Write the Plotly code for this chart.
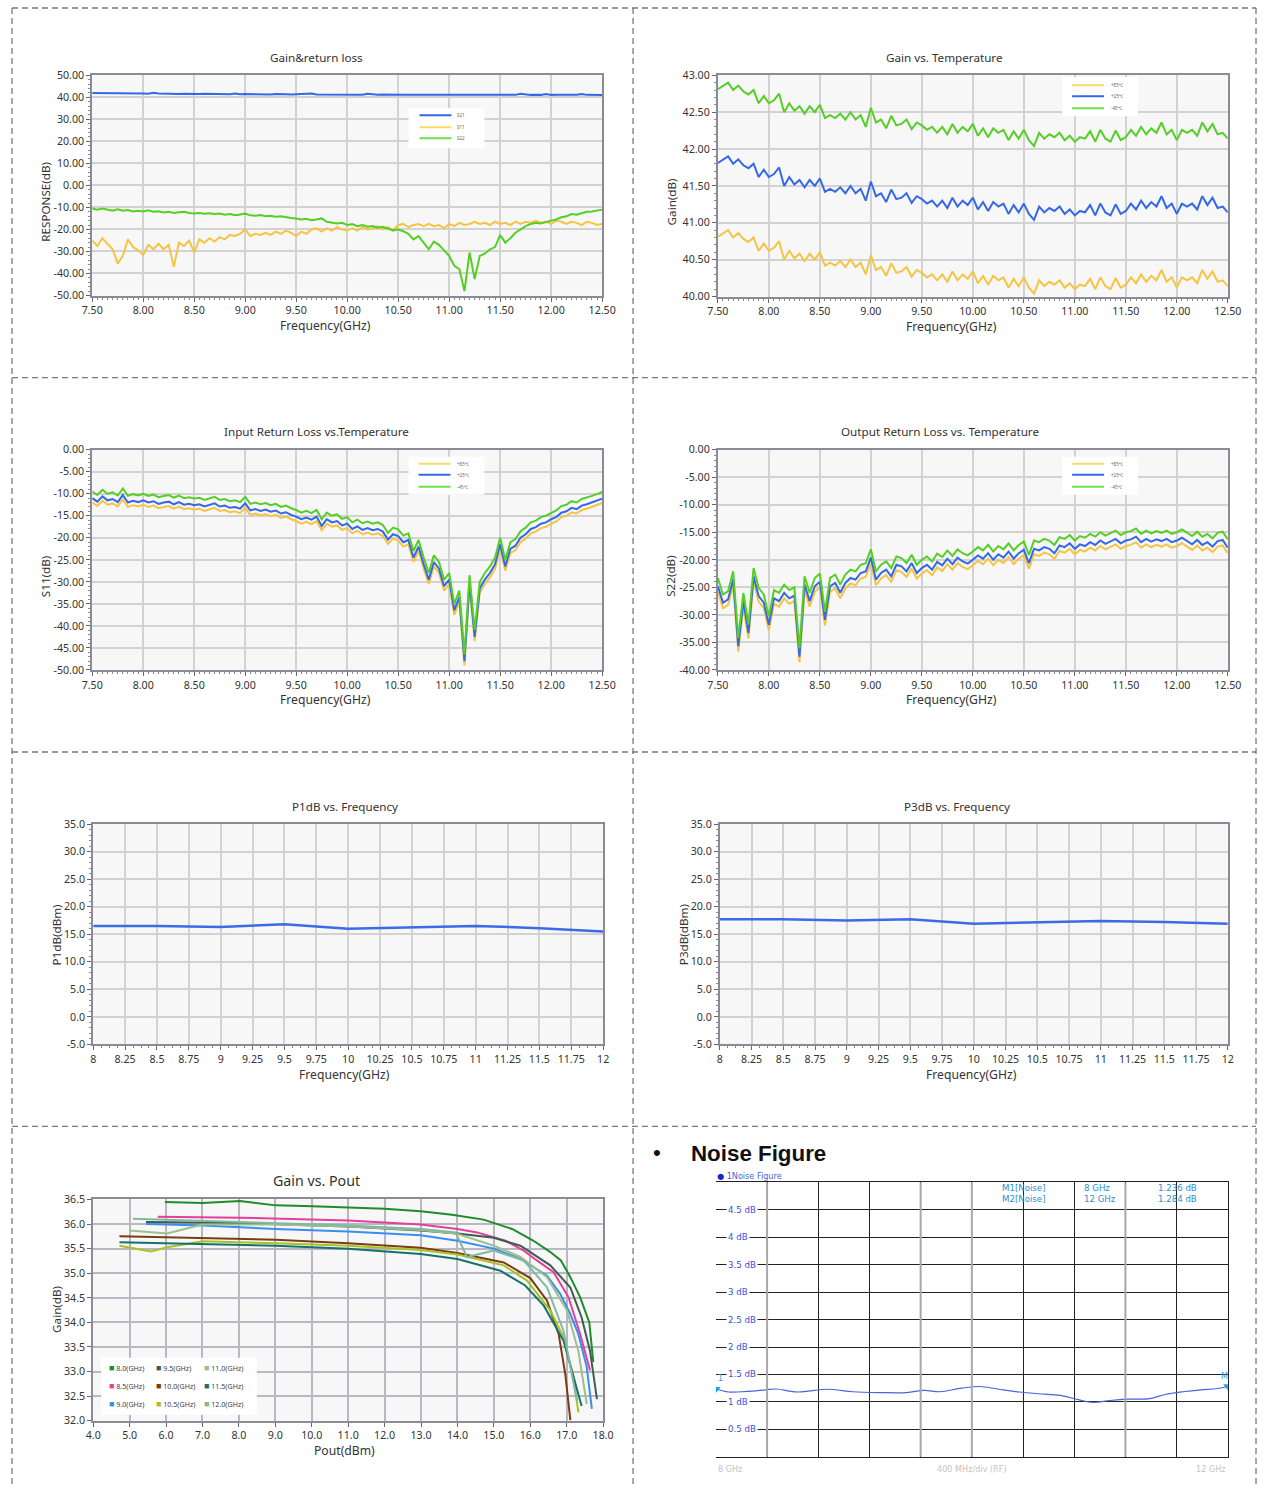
import plotly.graph_objects as go

W, H = 1271, 1495
# The photographed page shows the figure slightly shrunk and offset; these
# factors map the reference's pixel positions back into figure coordinates.
SX, BX = 0.98243, 9.6
SY, BY = 0.98958, 7.8
FS = 1.015  # font compensation for the same shrink


def fx(p):
    return min(max((p - BX) / SX / W, 0.0), 1.0)


def fy(p):
    return min(max(1 - (p - BY) / SY / H, 0.0), 1.0)


FONT = "Noto Sans"

# ---------------------------------------------------------------- data
# VNA sweep grid 7.5 .. 12.5 GHz (step 0.05 GHz)
freq = [round(7.5 + 0.05 * i, 2) for i in range(101)]

# Panel 1: Gain & return loss
sparam_names = ["S21", "S11", "S22"]
s21 = [41.9, 41.9, 41.8, 41.8, 41.7, 41.8, 41.7, 42.0, 41.8, 41.7,
       41.7, 41.6, 42.1, 41.7, 41.6, 41.6, 41.6, 41.5, 41.6, 41.5,
       41.5, 41.5, 41.6, 41.5, 41.5, 41.4, 41.5, 41.4, 41.7, 41.4,
       41.5, 41.4, 41.5, 41.4, 41.4, 41.3, 41.5, 41.3, 41.4, 41.3,
       41.4, 41.3, 41.4, 41.7, 41.3, 41.3, 41.4, 41.3, 41.3, 41.4,
       41.3, 41.2, 41.3, 41.2, 41.6, 41.3, 41.2, 41.3, 41.2, 41.2,
       41.3, 41.2, 41.2, 41.3, 41.2, 41.2, 41.2, 41.3, 41.2, 41.2,
       41.2, 41.2, 41.2, 41.3, 41.2, 41.2, 41.2, 41.1, 41.2, 41.2,
       41.2, 41.1, 41.2, 41.1, 41.6, 41.2, 41.1, 41.2, 41.1, 41.5,
       41.1, 41.2, 41.1, 41.1, 41.1, 41.2, 41.5, 41.1, 41.1, 41.0,
       41.0]
s11 = [-25.0, -27.5, -24.0, -26.5, -29.0, -35.5, -32.0, -24.5, -28.0, -29.5,
       -31.5, -27.0, -29.0, -26.5, -29.0, -27.0, -37.0, -26.0, -27.5, -25.0,
       -30.5, -24.5, -26.0, -24.0, -25.5, -23.5, -24.5, -22.5, -23.0, -22.0,
       -20.0, -23.0, -22.0, -22.5, -21.5, -22.5, -21.0, -22.0, -20.5, -21.5,
       -23.0, -21.0, -22.0, -20.0, -19.5, -21.0, -19.5, -20.5, -19.0, -20.0,
       -20.5, -19.5, -20.5, -19.0, -20.0, -19.5, -18.5, -20.0, -19.0, -20.5,
       -18.0, -17.5, -19.0, -18.0, -17.5, -18.5, -17.5, -18.5, -18.0, -19.5,
       -17.5, -18.5, -17.0, -18.0, -17.5, -16.5, -17.5, -17.0, -18.0, -16.5,
       -17.5, -17.0, -18.0, -16.5, -17.5, -16.5, -17.0, -16.0, -17.0, -16.5,
       -17.5, -16.0, -16.5, -17.5, -16.5, -17.0, -18.0, -16.5, -17.0, -18.0,
       -17.5]
s22 = [-10.5, -11.0, -10.5, -11.0, -11.5, -10.8, -11.5, -11.2, -11.8, -11.5,
       -11.8, -11.3, -12.0, -11.8, -12.3, -12.0, -12.5, -12.2, -12.0, -12.5,
       -12.8, -12.5, -12.9, -12.6, -13.0, -12.8, -13.3, -13.0, -13.5, -13.2,
       -12.8, -13.6, -13.8, -13.5, -14.0, -13.8, -14.2, -14.0, -14.5, -14.8,
       -15.0, -15.5, -15.2, -15.8, -15.5, -15.0, -16.5, -16.8, -17.3, -17.0,
       -18.0, -17.6, -18.5, -18.0, -18.8, -18.5, -19.2, -18.8, -19.6, -20.5,
       -20.0, -20.8, -22.0, -24.5, -23.0, -26.0, -29.0, -25.5, -27.0, -29.5,
       -32.0, -36.5, -38.0, -48.0, -30.5, -42.5, -32.0, -31.0, -29.0, -28.0,
       -22.5, -26.0, -24.0, -21.5, -20.0, -18.5, -17.5, -17.0, -17.3, -16.5,
       -16.0, -15.5, -14.5, -14.0, -13.0, -13.3, -12.5, -12.0, -11.8, -11.3,
       -11.0]

temp_names = ["+85\u2103", "+25\u2103", "-45\u2103"]

# Panel 2: Gain vs temperature
gain_p85 = [40.81, 40.86, 40.90, 40.80, 40.86, 40.78, 40.74, 40.80, 40.62, 40.72,
            40.62, 40.66, 40.75, 40.50, 40.62, 40.52, 40.58, 40.48, 40.58, 40.50,
            40.60, 40.42, 40.46, 40.42, 40.48, 40.40, 40.50, 40.40, 40.46, 40.30,
            40.56, 40.36, 40.40, 40.28, 40.45, 40.32, 40.34, 40.40, 40.27, 40.36,
            40.32, 40.26, 40.30, 40.22, 40.30, 40.20, 40.34, 40.22, 40.30, 40.24,
            40.34, 40.18, 40.28, 40.16, 40.28, 40.22, 40.26, 40.12, 40.24, 40.14,
            40.26, 40.12, 40.04, 40.22, 40.14, 40.20, 40.16, 40.22, 40.12, 40.18,
            40.10, 40.16, 40.14, 40.24, 40.10, 40.26, 40.14, 40.10, 40.25, 40.12,
            40.16, 40.26, 40.18, 40.30, 40.20, 40.28, 40.22, 40.36, 40.20, 40.26,
            40.12, 40.26, 40.22, 40.26, 40.18, 40.36, 40.24, 40.34, 40.20, 40.22,
            40.14]
gain_p25 = [41.81, 41.86, 41.90, 41.80, 41.86, 41.78, 41.74, 41.80, 41.62, 41.72,
            41.62, 41.66, 41.75, 41.50, 41.62, 41.52, 41.58, 41.48, 41.58, 41.50,
            41.60, 41.42, 41.46, 41.42, 41.48, 41.40, 41.50, 41.40, 41.46, 41.30,
            41.56, 41.36, 41.40, 41.28, 41.45, 41.32, 41.34, 41.40, 41.27, 41.36,
            41.32, 41.26, 41.30, 41.22, 41.30, 41.20, 41.34, 41.22, 41.30, 41.24,
            41.34, 41.18, 41.28, 41.16, 41.28, 41.22, 41.26, 41.12, 41.24, 41.14,
            41.26, 41.12, 41.04, 41.22, 41.14, 41.20, 41.16, 41.22, 41.12, 41.18,
            41.10, 41.16, 41.14, 41.24, 41.10, 41.26, 41.14, 41.10, 41.25, 41.12,
            41.16, 41.26, 41.18, 41.30, 41.20, 41.28, 41.22, 41.36, 41.20, 41.26,
            41.12, 41.26, 41.22, 41.26, 41.18, 41.36, 41.24, 41.34, 41.20, 41.22,
            41.14]
gain_m45 = [42.81, 42.86, 42.90, 42.80, 42.86, 42.78, 42.74, 42.80, 42.62, 42.72,
            42.62, 42.66, 42.75, 42.50, 42.62, 42.52, 42.58, 42.48, 42.58, 42.50,
            42.60, 42.42, 42.46, 42.42, 42.48, 42.40, 42.50, 42.40, 42.46, 42.30,
            42.56, 42.36, 42.40, 42.28, 42.45, 42.32, 42.34, 42.40, 42.27, 42.36,
            42.32, 42.26, 42.30, 42.22, 42.30, 42.20, 42.34, 42.22, 42.30, 42.24,
            42.34, 42.18, 42.28, 42.16, 42.28, 42.22, 42.26, 42.12, 42.24, 42.14,
            42.26, 42.12, 42.04, 42.22, 42.14, 42.20, 42.16, 42.22, 42.12, 42.18,
            42.10, 42.16, 42.14, 42.24, 42.10, 42.26, 42.14, 42.10, 42.25, 42.12,
            42.16, 42.26, 42.18, 42.30, 42.20, 42.28, 42.22, 42.36, 42.20, 42.26,
            42.12, 42.26, 42.22, 42.26, 42.18, 42.36, 42.24, 42.34, 42.20, 42.22,
            42.14]

# Panel 3: Input return loss vs temperature
s11_p85 = [-12.0, -12.8, -11.6, -12.5, -12.2, -12.9, -11.3, -13.0, -12.6, -12.9,
           -12.5, -13.0, -12.7, -13.3, -13.0, -12.8, -13.4, -12.9, -13.5, -13.3,
           -13.6, -13.4, -13.9, -13.6, -13.2, -13.9, -13.7, -14.2, -14.0, -14.4,
           -13.2, -14.8, -14.5, -14.9, -14.6, -15.1, -14.8, -15.5, -15.2, -15.8,
           -16.2, -16.8, -16.4, -16.9, -16.2, -18.3, -16.8, -17.5, -17.2, -18.2,
           -17.8, -19.0, -18.4, -19.2, -18.8, -19.3, -19.0, -19.6, -21.4, -20.2,
           -20.6, -22.0, -21.5, -25.5, -23.0, -27.0, -30.5, -26.5, -28.0, -32.0,
           -30.5, -37.5, -34.5, -49.0, -31.0, -43.5, -32.5, -30.5, -29.0, -27.0,
           -22.5, -27.5, -23.5, -22.8, -21.0, -20.2, -19.0, -18.6, -17.8, -17.5,
           -16.8, -16.3, -15.3, -15.0, -14.2, -14.5, -13.7, -13.4, -13.0, -12.6,
           -12.1]
s11_p25 = [-11.0, -11.8, -10.6, -11.5, -11.2, -11.9, -10.3, -12.0, -11.6, -11.9,
           -11.5, -12.0, -11.7, -12.3, -12.0, -11.8, -12.4, -11.9, -12.5, -12.3,
           -12.6, -12.4, -12.9, -12.6, -12.2, -12.9, -12.7, -13.2, -13.0, -13.4,
           -12.2, -13.8, -13.5, -13.9, -13.6, -14.1, -13.8, -14.5, -14.2, -14.8,
           -15.2, -15.8, -15.4, -15.9, -15.2, -17.3, -15.8, -16.5, -16.2, -17.2,
           -16.8, -18.0, -17.4, -18.2, -17.8, -18.3, -18.0, -18.6, -20.4, -19.2,
           -19.6, -21.0, -20.5, -24.5, -22.0, -26.0, -29.5, -25.5, -27.0, -31.0,
           -29.5, -36.5, -33.5, -48.0, -30.0, -42.5, -31.5, -29.5, -28.0, -26.0,
           -21.5, -26.5, -22.5, -21.8, -20.0, -19.2, -18.0, -17.6, -16.8, -16.5,
           -15.8, -15.3, -14.3, -14.0, -13.2, -13.5, -12.7, -12.4, -12.0, -11.6,
           -11.1]
s11_m45 = [-9.5, -10.3, -9.1, -10.0, -9.7, -10.4, -8.8, -10.5, -10.1, -10.4,
           -10.0, -10.5, -10.2, -10.8, -10.5, -10.3, -10.9, -10.4, -11.0, -10.8,
           -11.1, -10.9, -11.4, -11.1, -10.7, -11.4, -11.2, -11.7, -11.5, -11.9,
           -10.7, -12.3, -12.0, -12.4, -12.1, -12.6, -12.3, -13.0, -12.7, -13.3,
           -13.7, -14.3, -13.9, -14.4, -13.7, -15.8, -14.3, -15.0, -14.7, -15.7,
           -15.3, -16.5, -15.9, -16.7, -16.3, -16.8, -16.5, -17.1, -18.9, -17.7,
           -18.1, -19.5, -19.0, -23.0, -20.5, -24.5, -28.0, -24.0, -25.5, -29.5,
           -28.0, -35.0, -32.0, -46.5, -28.5, -41.0, -30.0, -28.0, -26.5, -24.5,
           -20.0, -25.0, -21.0, -20.3, -18.5, -17.7, -16.5, -16.1, -15.3, -15.0,
           -14.3, -13.8, -12.8, -12.5, -11.7, -12.0, -11.2, -10.9, -10.5, -10.1,
           -9.6]

# Panel 4: Output return loss vs temperature
s22_p85 = [-25.8, -28.8, -28.2, -24.6, -36.7, -28.5, -34.3, -24.0, -27.6, -28.8,
           -32.8, -28.0, -28.5, -27.0, -28.0, -27.5, -38.6, -25.5, -28.5, -25.8,
           -25.0, -31.9, -25.8, -25.2, -27.0, -25.2, -24.3, -24.6, -23.4, -23.1,
           -20.6, -24.6, -23.4, -22.8, -24.0, -21.9, -22.2, -23.1, -21.6, -23.4,
           -22.5, -21.9, -22.8, -21.4, -22.0, -20.8, -21.8, -20.6, -21.3, -21.7,
           -21.0, -20.2, -20.8, -19.8, -21.0, -20.0, -20.6, -19.5, -20.8, -19.8,
           -19.2, -21.6, -19.0, -19.3, -18.7, -19.0, -19.8, -18.4, -18.7, -18.0,
           -19.0, -18.2, -18.5, -17.8, -18.3, -17.5, -18.1, -17.7, -17.2, -18.0,
           -17.5, -17.3, -16.8, -17.8, -17.2, -17.7, -17.3, -17.6, -17.2, -17.8,
           -17.5, -17.0, -17.6, -18.2, -17.4, -18.3, -17.8, -18.6, -17.6, -17.4,
           -18.8]
s22_p25 = [-24.8, -27.8, -27.2, -23.6, -35.7, -27.5, -33.3, -23.0, -26.6, -27.8,
           -31.8, -27.0, -27.5, -26.0, -27.0, -26.5, -37.6, -24.5, -27.5, -24.8,
           -24.0, -30.9, -24.8, -24.2, -26.0, -24.2, -23.3, -23.6, -22.4, -22.1,
           -19.6, -23.6, -22.4, -21.8, -23.0, -20.9, -21.2, -22.1, -20.6, -22.4,
           -21.5, -20.9, -21.8, -20.4, -21.0, -19.8, -20.8, -19.6, -20.3, -20.7,
           -20.0, -19.2, -19.8, -18.8, -20.0, -19.0, -19.6, -18.5, -19.8, -18.8,
           -18.2, -20.6, -18.0, -18.3, -17.7, -18.0, -18.8, -17.4, -17.7, -17.0,
           -18.0, -17.2, -17.5, -16.8, -17.3, -16.5, -17.1, -16.7, -16.2, -17.0,
           -16.5, -16.3, -15.8, -16.8, -16.2, -16.7, -16.3, -16.6, -16.2, -16.8,
           -16.5, -16.0, -16.6, -17.2, -16.4, -17.3, -16.8, -17.6, -16.6, -16.4,
           -17.8]
s22_m45 = [-23.3, -26.3, -25.7, -22.1, -34.2, -26.0, -31.8, -21.5, -25.1, -26.3,
           -30.3, -25.5, -26.0, -24.5, -25.5, -25.0, -36.1, -23.0, -26.0, -23.3,
           -22.5, -29.4, -23.3, -22.7, -24.5, -22.7, -21.8, -22.1, -20.9, -20.6,
           -18.1, -22.1, -20.9, -20.3, -21.5, -19.4, -19.7, -20.6, -19.1, -20.9,
           -20.0, -19.4, -20.3, -18.9, -19.5, -18.3, -19.3, -18.1, -18.8, -19.2,
           -18.5, -17.7, -18.3, -17.3, -18.5, -17.5, -18.1, -17.0, -18.3, -17.3,
           -16.7, -19.1, -16.5, -16.8, -16.2, -16.5, -17.3, -15.9, -16.2, -15.5,
           -16.5, -15.7, -16.0, -15.3, -15.8, -15.0, -15.6, -15.2, -14.7, -15.5,
           -15.0, -14.8, -14.3, -15.3, -14.7, -15.2, -14.8, -15.1, -14.7, -15.3,
           -15.0, -14.5, -15.1, -15.7, -14.9, -15.8, -15.3, -16.1, -15.1, -14.9,
           -16.3]

# Panels 5/6: P1dB / P3dB
pf_freq = [8.0, 8.5, 9.0, 9.5, 10.0, 10.5, 11.0, 11.5, 12.0]
p1db = [16.5, 16.5, 16.3, 16.8, 16.0, 16.3, 16.5, 16.1, 15.5]
p3db = [17.7, 17.7, 17.5, 17.7, 16.9, 17.2, 17.4, 17.2, 16.9]

# Panel 7: Gain vs Pout
pout_names = ["8.0(GHz)", "8.5(GHz)", "9.0(GHz)", "9.5(GHz)", "10.0(GHz)",
              "10.5(GHz)", "11.0(GHz)", "11.5(GHz)", "12.0(GHz)"]
pout_colors = ["#1e8c2a", "#e83e9a", "#3a8ef0", "#3d5e4e", "#7a3d12",
               "#a8c224", "#9cc08c", "#16706e", "#80b8a0"]
pout_8g0 = [5.97, 7.0, 8.03, 9.01, 10.02, 11.0, 12.0, 12.99, 13.85, 14.72, 15.5, 16.09, 16.55, 16.84, 17.1, 17.37, 17.62, 17.73]
gain_8g0 = [36.45, 36.43, 36.47, 36.38, 36.36, 36.34, 36.31, 36.26, 36.19, 36.09, 35.9, 35.66, 35.43, 35.26, 34.92, 34.51, 34.0, 33.19]
pout_8g5 = [5.77, 8.03, 11.0, 12.99, 14.0, 14.54, 15.32, 15.82, 16.18, 16.64, 17.05, 17.37, 17.64]
gain_8g5 = [36.15, 36.13, 36.07, 35.99, 35.9, 35.83, 35.66, 35.46, 35.26, 35.02, 34.51, 33.76, 33.02]
pout_9g0 = [5.45, 7.0, 9.01, 11.0, 12.99, 14.0, 15.0, 15.73, 16.46, 16.82, 17.1, 17.32, 17.55, 17.69]
gain_9g0 = [36.0, 35.97, 35.9, 35.85, 35.77, 35.66, 35.5, 35.29, 34.95, 34.58, 34.17, 33.76, 33.09, 32.24]
pout_9g5 = [5.45, 8.03, 11.0, 12.99, 14.0, 15.0, 15.73, 16.55, 17.1, 17.41, 17.64, 17.83]
gain_9g5 = [36.04, 36.02, 35.95, 35.87, 35.81, 35.72, 35.56, 35.16, 34.71, 34.1, 33.42, 32.44]
pout_10g0 = [4.72, 7.0, 9.01, 11.0, 12.99, 14.0, 15.27, 16.0, 16.46, 16.78, 16.96, 17.1]
gain_10g0 = [35.75, 35.72, 35.68, 35.61, 35.52, 35.41, 35.22, 34.9, 34.44, 33.76, 32.95, 32.01]
pout_10g5 = [4.72, 5.59, 6.03, 7.0, 9.01, 11.0, 12.99, 14.0, 15.27, 15.91, 16.55, 16.91, 17.19, 17.32]
gain_10g5 = [35.56, 35.44, 35.53, 35.65, 35.61, 35.56, 35.47, 35.38, 35.16, 34.85, 34.24, 33.7, 32.88, 32.17]
pout_11g0 = [4.99, 6.03, 7.0, 9.01, 11.0, 12.99, 14.0, 15.0, 15.73, 16.46, 17.01, 17.32, 17.55]
gain_11g0 = [35.87, 35.81, 35.99, 35.99, 35.95, 35.88, 35.8, 35.56, 35.33, 34.92, 34.24, 33.42, 32.34]
pout_11g5 = [4.72, 7.0, 9.01, 11.0, 12.99, 14.0, 15.18, 15.86, 16.37, 16.91, 17.14, 17.41]
gain_11g5 = [35.63, 35.6, 35.56, 35.5, 35.39, 35.29, 35.05, 34.75, 34.34, 33.63, 33.02, 32.3]
pout_12g0 = [5.09, 7.0, 9.01, 11.0, 12.99, 13.95, 14.26, 15.0, 15.82, 16.46, 16.91, 17.14, 17.28]
gain_12g0 = [36.11, 36.06, 36.02, 35.97, 35.9, 35.83, 35.33, 35.46, 35.26, 34.71, 33.83, 32.95, 32.41]

# Panel 8: Noise figure
nf_freq = [8.00, 8.10, 8.24, 8.39, 8.47, 8.64, 8.87, 9.07, 9.29, 9.49, 9.63, 9.75, 9.92, 10.06,
           10.20, 10.37, 10.57, 10.71, 10.83, 10.95, 11.08, 11.22, 11.39, 11.51, 11.65, 11.79, 11.91, 12.00]
nf_db = [1.24, 1.18, 1.19, 1.22, 1.235, 1.18, 1.23, 1.185, 1.17, 1.17, 1.21, 1.185, 1.25, 1.28,
         1.235, 1.18, 1.14, 1.11, 1.04, 0.99, 1.025, 1.05, 1.06, 1.135, 1.185, 1.22, 1.24, 1.28]
nf_marker_names = ["M1[Noise]", "M2[Noise]"]
nf_marker_freq = [8.0, 12.0]
nf_marker_freq_lbl = ["8 GHz", "12 GHz"]
nf_marker_db = [1.236, 1.284]
nf_gray_grid = [8.4, 9.6, 10.0, 11.2]

# Tick labels
freq_ticks = [7.5, 8.0, 8.5, 9.0, 9.5, 10.0, 10.5, 11.0, 11.5, 12.0, 12.5]
p1_yticks = [50, 40, 30, 20, 10, 0, -10, -20, -30, -40, -50]
p2_yticks = [40.0, 40.5, 41.0, 41.5, 42.0, 42.5, 43.0]
p3_yticks = [0, -5, -10, -15, -20, -25, -30, -35, -40, -45, -50]
p4_yticks = [0, -5, -10, -15, -20, -25, -30, -35, -40]
pf_xticks = [8, 8.25, 8.5, 8.75, 9, 9.25, 9.5, 9.75, 10, 10.25, 10.5, 10.75, 11, 11.25, 11.5, 11.75, 12]
pf_yticks = [-5, 0, 5, 10, 15, 20, 25, 30, 35]
pout_xticks = [4, 5, 6, 7, 8, 9, 10, 11, 12, 13, 14, 15, 16, 17, 18]
pout_yticks = [32.0, 32.5, 33.0, 33.5, 34.0, 34.5, 35.0, 35.5, 36.0, 36.5]
nf_yticks = [0.5, 1.0, 1.5, 2.0, 2.5, 3.0, 3.5, 4.0, 4.5]

C_BLUE = "#3468e8"
C_YEL = "#f6c443"
C_GRN = "#55cf25"
C_YEL_LEG = "#f8dc6a"
C_GRN_LEG = "#6ee04a"

# ---------------------------------------------------------------- figure
fig = go.Figure()


def xa(n):
    return "x" if n == 1 else f"x{n}"


def ya(n):
    return "y" if n == 1 else f"y{n}"


def add_line(n, x, y, name, color, width=2.0, shape="linear"):
    fig.add_trace(go.Scatter(
        x=x, y=y, name=name, mode="lines", xaxis=xa(n), yaxis=ya(n),
        line=dict(color=color, width=width, shape=shape),
        showlegend=False, hoverinfo="skip"))


for ys, nm, c in zip([s21, s11, s22], sparam_names, [C_BLUE, C_YEL, C_GRN]):
    add_line(1, freq, ys, nm, c)
for ys, nm, c in zip([gain_p85, gain_p25, gain_m45], temp_names, [C_YEL, C_BLUE, C_GRN]):
    add_line(2, freq, ys, nm, c)
for ys, nm, c in zip([s11_p85, s11_p25, s11_m45], temp_names, [C_YEL, C_BLUE, C_GRN]):
    add_line(3, freq, ys, nm, c)
for ys, nm, c in zip([s22_p85, s22_p25, s22_m45], temp_names, [C_YEL, C_BLUE, C_GRN]):
    add_line(4, freq, ys, nm, c)

add_line(5, pf_freq, p1db, "P1dB", "#3c6be6", width=2.5)
add_line(6, pf_freq, p3db, "P3dB", "#3c6be6", width=2.5)

pout_x = [pout_8g0, pout_8g5, pout_9g0, pout_9g5, pout_10g0, pout_10g5, pout_11g0, pout_11g5, pout_12g0]
pout_y = [gain_8g0, gain_8g5, gain_9g0, gain_9g5, gain_10g0, gain_10g5, gain_11g0, gain_11g5, gain_12g0]
for px_, py_, nm, c in zip(pout_x, pout_y, pout_names, pout_colors):
    add_line(7, px_, py_, nm, c, width=2.0)

add_line(8, nf_freq, nf_db, "1Noise Figure", "#4b63d6", width=1.2, shape="spline")
fig.add_trace(go.Scatter(
    x=nf_marker_freq, y=nf_marker_db, mode="markers", xaxis="x8", yaxis="y8",
    marker=dict(symbol="triangle-down", size=8, color="#18a0e0"),
    showlegend=False, hoverinfo="skip", cliponaxis=True))

# ---------------------------------------------------------------- axes
base = dict(showgrid=True, gridcolor="#d2d2d2", gridwidth=1.5, zeroline=False,
            showline=True, linecolor="#8a8a98", linewidth=2, mirror=True,
            ticks="outside", ticklen=4, tickwidth=1, tickcolor="#666",
            tickfont=dict(family=FONT, size=10.5 * FS, color="#333"), fixedrange=True)


def minor(dt, t0):
    return dict(ticks="outside", ticklen=2, tickwidth=1, tickcolor="#888",
                tickmode="linear", dtick=dt, tick0=t0, showgrid=False)


axes = {}


def set_axes(n, xdom, ydom, xr, yr, xt, xtt, yt, ytt, xmin=None, ymin=None, style=base):
    kx = "xaxis" if n == 1 else f"xaxis{n}"
    ky = "yaxis" if n == 1 else f"yaxis{n}"
    ax = dict(style, domain=[fx(xdom[0]), fx(xdom[1])], anchor=ya(n), range=xr,
              tickmode="array", tickvals=xt, ticktext=xtt)
    ay = dict(style, domain=[fy(ydom[1]), fy(ydom[0])], anchor=xa(n), range=yr,
              tickmode="array", tickvals=yt, ticktext=ytt)
    if xmin:
        ax["minor"] = xmin
    if ymin:
        ay["minor"] = ymin
    axes[kx] = ax
    axes[ky] = ay


f2 = [f"{v:.2f}" for v in freq_ticks]
set_axes(1, (91, 602), (76, 296), [7.5, 12.5], [-50, 50], freq_ticks, f2,
         p1_yticks, [f"{v:.2f}" for v in p1_yticks], minor(0.05, 7.5), minor(2, -50))
set_axes(2, (718, 1229), (76, 297), [7.5, 12.5], [40, 43], freq_ticks, f2,
         p2_yticks, [f"{v:.2f}" for v in p2_yticks], minor(0.05, 7.5), minor(0.1, 40))
set_axes(3, (91, 602), (450, 670), [7.5, 12.5], [-50, 0], freq_ticks, f2,
         p3_yticks, [f"{v:.2f}" for v in p3_yticks], minor(0.05, 7.5), minor(1, -50))
set_axes(4, (718, 1229), (450, 670), [7.5, 12.5], [-40, 0], freq_ticks, f2,
         p4_yticks, [f"{v:.2f}" for v in p4_yticks], minor(0.05, 7.5), minor(1, -40))
set_axes(5, (92, 603), (824, 1044), [8, 12], [-5, 35], pf_xticks, [f"{v:g}" for v in pf_xticks],
         pf_yticks, [f"{v:.1f}" for v in pf_yticks], minor(0.0625, 8), minor(1, -5))
set_axes(6, (720, 1229), (824, 1044), [8, 12], [-5, 35], pf_xticks, [f"{v:g}" for v in pf_xticks],
         pf_yticks, [f"{v:.1f}" for v in pf_yticks], minor(0.0625, 8), minor(1, -5))
style7 = dict(base, gridcolor="#b8b8c2", gridwidth=1.5)
set_axes(7, (92, 603), (1199, 1420), [4, 18], [32, 36.5], pout_xticks, [f"{v:.1f}" for v in pout_xticks],
         pout_yticks, [f"{v:.1f}" for v in pout_yticks], style=style7)

axes["xaxis8"] = dict(domain=[fx(716), fx(1229)], anchor="y8", range=[8, 12],
                      tickmode="linear", tick0=8.4, dtick=0.4, showgrid=True,
                      gridcolor="#222", gridwidth=1, showline=True, linecolor="#222",
                      linewidth=1, mirror=True, ticks="", showticklabels=False,
                      zeroline=False, fixedrange=True)
axes["yaxis8"] = dict(domain=[fy(1456), fy(1182)], anchor="x8", range=[0, 5],
                      tickmode="linear", tick0=0, dtick=0.5, showgrid=True,
                      gridcolor="#222", gridwidth=1, showline=True, linecolor="#222",
                      linewidth=1, side="right", ticks="", showticklabels=False,
                      zeroline=False, fixedrange=True)

# ---------------------------------------------------------------- annotations / shapes
ann = []
shapes = []


def text(x, y, s, size=11, color="#333", angle=0, xanchor="center", yanchor="middle",
         family=FONT, **kw):
    ann.append(dict(x=fx(x), y=fy(y), xref="paper", yref="paper", text=s, showarrow=False,
                    font=dict(size=size * FS, color=color, family=family), textangle=angle,
                    xanchor=xanchor, yanchor=yanchor, **kw))


def legend_box(x0, y0, x1, y1, lx0, lx1, rows, tx, names, colors):
    shapes.append(dict(type="rect", xref="paper", yref="paper", x0=fx(x0), x1=fx(x1),
                       y0=fy(y1), y1=fy(y0), fillcolor="white", line=dict(width=0),
                       layer="above"))
    for yy, nm, c in zip(rows, names, colors):
        shapes.append(dict(type="line", xref="paper", yref="paper", x0=fx(lx0), x1=fx(lx1),
                           y0=fy(yy), y1=fy(yy), line=dict(color=c, width=2), layer="above"))
        text(tx, yy, nm, 4.5, color="#666", xanchor="left")


temp_leg_colors = [C_YEL_LEG, C_BLUE, C_GRN_LEG]
legend_box(408, 109, 484, 149, 419, 451, [116, 128, 139], 455, sparam_names,
           [C_BLUE, C_YEL_LEG, C_GRN_LEG])
legend_box(1063, 78, 1139, 117, 1073, 1105, [86, 97, 109], 1110, temp_names, temp_leg_colors)
legend_box(408, 457, 484, 495, 418, 450, [464, 475, 487], 455, temp_names, temp_leg_colors)
legend_box(1063, 457, 1139, 495, 1073, 1105, [464, 475, 487], 1110, temp_names, temp_leg_colors)

# titles
text(316, 58, "Gain&amp;return loss", 11.5)
text(945, 58, "Gain vs. Temperature", 11.5)
text(316, 432, "Input Return Loss vs.Temperature", 11.5)
text(941, 432, "Output Return Loss vs. Temperature", 11.5)
text(344, 806, "P1dB vs. Frequency", 11.5)
text(958, 806, "P3dB vs. Frequency", 11.5)
text(316, 1180, "Gain vs. Pout", 14)
# x titles
for xx, yy in [(325, 326), (952, 327), (325, 700), (952, 700), (344, 1074), (972, 1074)]:
    text(xx, yy, "Frequency(GHz)", 12)
text(344, 1450, "Pout(dBm)", 12)
# y titles
text(44, 202, "RESPONSE(dB)", 11.5, angle=-90)
text(671, 202, "Gain(dB)", 11.5, angle=-90)
text(44, 576, "S11(dB)", 11.5, angle=-90)
text(671, 576, "S22(dB)", 11.5, angle=-90)
text(55, 934, "P1dB(dBm)", 11.5, angle=-90)
text(683, 934, "P3dB(dBm)", 11.5, angle=-90)
text(55, 1309, "Gain(dB)", 11.5, angle=-90)

# Gain vs Pout legend (3 x 3 grid, column-major)
shapes.append(dict(type="rect", xref="paper", yref="paper", x0=fx(100), x1=fx(256),
                   y0=fy(1414), y1=fy(1357), fillcolor="white", line=dict(width=0), layer="above"))
leg_cols = [106, 153, 201]
leg_rows = [1367, 1385, 1403]
for k, (nm, c) in enumerate(zip(pout_names, pout_colors)):
    text(leg_cols[k // 3], leg_rows[k % 3],
         f'<span style="color:{c};font-size:9px">\u25A0</span> {nm}', 7, color="#444",
         xanchor="left")

# Noise figure block
text(657, 1152, "\u2022", 22, color="#111", family="Liberation Sans")
text(689, 1153, "<b>Noise Figure</b>", 22, color="#111", family="Liberation Sans", xanchor="left")
text(715, 1176, '<span style="color:#1428c8">\u25CF</span> 1Noise Figure', 8,
     color="#4a62d8", family="DejaVu Sans", xanchor="left")
for i, (mn, fl, db) in enumerate(zip(nf_marker_names, nf_marker_freq_lbl, nf_marker_db)):
    yy = 1188 + 11 * i
    text(1001, yy, mn, 8.5, color="#2a8fd4", family="DejaVu Sans", xanchor="left")
    text(1083, yy, fl, 8.5, color="#2a8fd4", family="DejaVu Sans", xanchor="left")
    text(1200, yy, f"{db:.3f} dB", 8.5, color="#2a8fd4", family="DejaVu Sans", xanchor="right")
for v in nf_yticks:
    ann.append(dict(x=fx(726), y=v, xref="paper", yref="y8", text=f"{v:g} dB",
                    showarrow=False, xanchor="left", yanchor="middle", bgcolor="white",
                    borderpad=1, font=dict(size=8.5 * FS, color="#3a4fd6", family="DejaVu Sans")))
ann.append(dict(x=8.0, y=1.42, xref="x8", yref="y8", text="1", showarrow=False,
                xanchor="left", font=dict(size=8, color="#18a0e0", family="DejaVu Sans")))
ann.append(dict(x=12.0, y=1.46, xref="x8", yref="y8", text="M", showarrow=False,
                xanchor="right", xshift=2, font=dict(size=8, color="#18a0e0", family="DejaVu Sans")))
text(716, 1468, "8 GHz", 8, color="#c4c4c4", family="DejaVu Sans", xanchor="left")
text(973, 1468, "400 MHz/div (RF)", 8, color="#c4c4c4", family="DejaVu Sans")
text(1229, 1468, "12 GHz", 8, color="#c4c4c4", family="DejaVu Sans", xanchor="right")

# dashed page dividers
dash = dict(color="#7a7a7a", width=1.3, dash="6px,4px")
e0x, e1x = max(fx(5), 1.0 / W), min(fx(1261), 1 - 1.0 / W)
e0y = min(fy(3), 1 - 1.0 / H)
for yy in [None, 378, 752, 1126]:
    yv = e0y if yy is None else fy(yy)
    shapes.append(dict(type="line", xref="paper", yref="paper", x0=e0x, x1=e1x,
                       y0=yv, y1=yv, line=dash))
for xv in [e0x, fx(633), e1x]:
    shapes.append(dict(type="line", xref="paper", yref="paper", x0=xv, x1=xv,
                       y0=e0y, y1=0, line=dash))
# white screen of the noise-figure plot
shapes.append(dict(type="rect", xref="paper", yref="paper", x0=fx(716), x1=fx(1229),
                   y0=fy(1456), y1=fy(1182), fillcolor="white", line=dict(width=0), layer="below"))
for gx in nf_gray_grid:
    shapes.append(dict(type="line", xref="x8", yref="y8 domain", x0=gx, x1=gx, y0=0, y1=1,
                       line=dict(color="#a8a8a8", width=2), layer="above"))

fig.update_layout(
    width=W, height=H, margin=dict(l=0, r=0, t=0, b=0),
    paper_bgcolor="white", plot_bgcolor="#f7f7f7",
    font=dict(family=FONT, color="#333"),
    showlegend=False,
    annotations=ann, shapes=shapes, **axes)

fig.write_html("out.html", config={"displayModeBar": False},
               post_script="document.body.style.margin='0px';")
